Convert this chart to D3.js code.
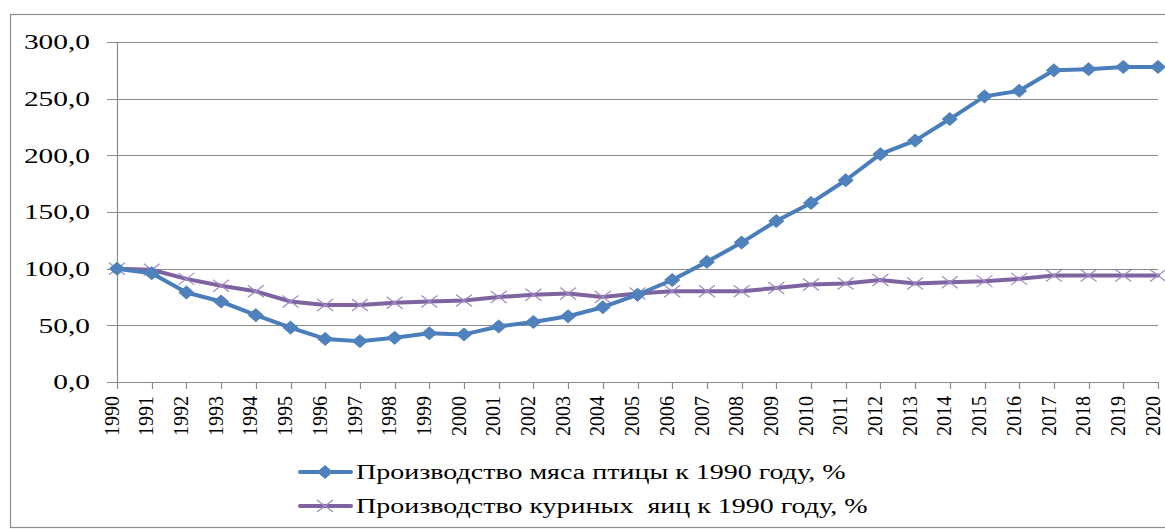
<!DOCTYPE html>
<html><head><meta charset="utf-8">
<script src="https://cdn.jsdelivr.net/npm/d3@7"></script>
<style>html,body{margin:0;padding:0;background:#fff;}svg{display:block;}</style>
</head><body>
<script>
const years = d3.range(1990, 2021).map(String);
const meat = [100,96,79,71,59,48,38,36,39,43,42,49,53,58,66,77,90,106,123,142,158,178,201,213,232,252,257,275,276,278,278];
const eggs = [100,99,91,85,80,71,68,68,70,71,72,75,77,78,75,78,80,80,80,83,86,87,90,87,88,89,91,94,94,94,94];
const yTicks = [0,50,100,150,200,250,300];
const seriesNames = ["Производство мяса птицы к 1990 году, %", "Производство куриных  яиц к 1990 году, %"];

const W = 1165, H = 529, SX = 1.4, SXL = 1.05;
const svg = d3.select("body").append("svg").attr("width", W).attr("height", H);

svg.append("rect").attr("x", 10.5).attr("y", 14.5).attr("width", 1170).attr("height", 513)
  .attr("fill", "none").attr("stroke", "#8c8c8c").attr("stroke-width", 1.2);

const x = d3.scalePoint().domain(years).range([117, 1158]);
const y = d3.scaleLinear().domain([0, 300]).range([382, 42]);
const fmt = v => d3.format(".1f")(v).replace(".", ",");

// gridlines
svg.append("g").selectAll("line").data(yTicks).join("line")
  .attr("x1", 107).attr("x2", 1158).attr("y1", d => Math.round(y(d)) + 0.5).attr("y2", d => Math.round(y(d)) + 0.5)
  .attr("stroke", "#8a8a8a").attr("stroke-width", 1.2);

// y axis line
svg.append("line").attr("x1", 117.5).attr("x2", 117.5).attr("y1", y(300)).attr("y2", y(0))
  .attr("stroke", "#8a8a8a").attr("stroke-width", 1.2);

// x ticks
svg.append("g").selectAll("line").data(years).join("line")
  .attr("x1", d => Math.round(x(d)) + 0.5).attr("x2", d => Math.round(x(d)) + 0.5)
  .attr("y1", y(0)).attr("y2", y(0) + 7)
  .attr("stroke", "#8a8a8a").attr("stroke-width", 1.2);

// y labels
svg.append("g").selectAll("text").data(yTicks).join("text")
  .attr("transform", d => `translate(90,${y(d)}) scale(${SX},1)`)
  .attr("text-anchor", "end").attr("dy", "0.35em")
  .attr("font-family", "Liberation Serif").attr("font-size", 21).attr("fill", "#000")
  .text(fmt);

// x labels
svg.append("g").selectAll("text").data(years).join("text")
  .attr("transform", d => `translate(${x(d)},396) scale(${SXL},1) rotate(-90)`)
  .attr("text-anchor", "end").attr("dy", "0.08em")
  .attr("font-family", "Liberation Serif").attr("font-size", 20).attr("fill", "#000")
  .text(d => d);

const blue = "#4f81bd", blueLine = "#4a7ebb", purple = "#7f63a1", purpleMark = "#a08ac4";
const line = d3.line().x((d, i) => x(years[i])).y(d => y(d));

function diamond(g, cx, cy) {
  g.append("path").attr("d", `M${cx - 7.5},${cy} L${cx},${cy - 6.5} L${cx + 7.5},${cy} L${cx},${cy + 6.5} Z`)
    .attr("fill", blue).attr("stroke", blue).attr("stroke-width", 1);
}
function cross(g, cx, cy) {
  g.append("path").attr("d", `M${cx - 8},${cy - 6} L${cx + 8},${cy + 6} M${cx - 8},${cy + 6} L${cx + 8},${cy - 6}`)
    .attr("fill", "none").attr("stroke", purpleMark).attr("stroke-width", 1.2);
}

// eggs series
const gE = svg.append("g");
gE.append("path").datum(eggs).attr("d", line).attr("fill", "none").attr("stroke", purple)
  .attr("stroke-width", 4).attr("stroke-linejoin", "round").attr("stroke-linecap", "round");
eggs.forEach((v, i) => cross(gE, x(years[i]), y(v)));

// meat series
const gM = svg.append("g");
gM.append("path").datum(meat).attr("d", line).attr("fill", "none").attr("stroke", blueLine)
  .attr("stroke-width", 4).attr("stroke-linejoin", "round").attr("stroke-linecap", "round");
meat.forEach((v, i) => diamond(gM, x(years[i]), y(v)));

// legend
const leg = svg.append("g");
const legY = [472, 506];
leg.append("line").attr("x1", 300).attr("x2", 351).attr("y1", legY[0]).attr("y2", legY[0])
  .attr("stroke", blueLine).attr("stroke-width", 4).attr("stroke-linecap", "round");
diamond(leg, 325, legY[0]);
leg.append("line").attr("x1", 300).attr("x2", 351).attr("y1", legY[1]).attr("y2", legY[1])
  .attr("stroke", purple).attr("stroke-width", 4).attr("stroke-linecap", "round");
cross(leg, 325, legY[1]);
seriesNames.forEach((n, i) => {
  leg.append("text").attr("transform", `translate(356,${legY[i]}) scale(${SX},1)`)
    .attr("dy", "0.33em").attr("font-family", "Liberation Serif").attr("font-size", 20)
    .attr("fill", "#000").attr("xml:space", "preserve").style("white-space", "pre").text(n);
});
</script>
</body></html>
